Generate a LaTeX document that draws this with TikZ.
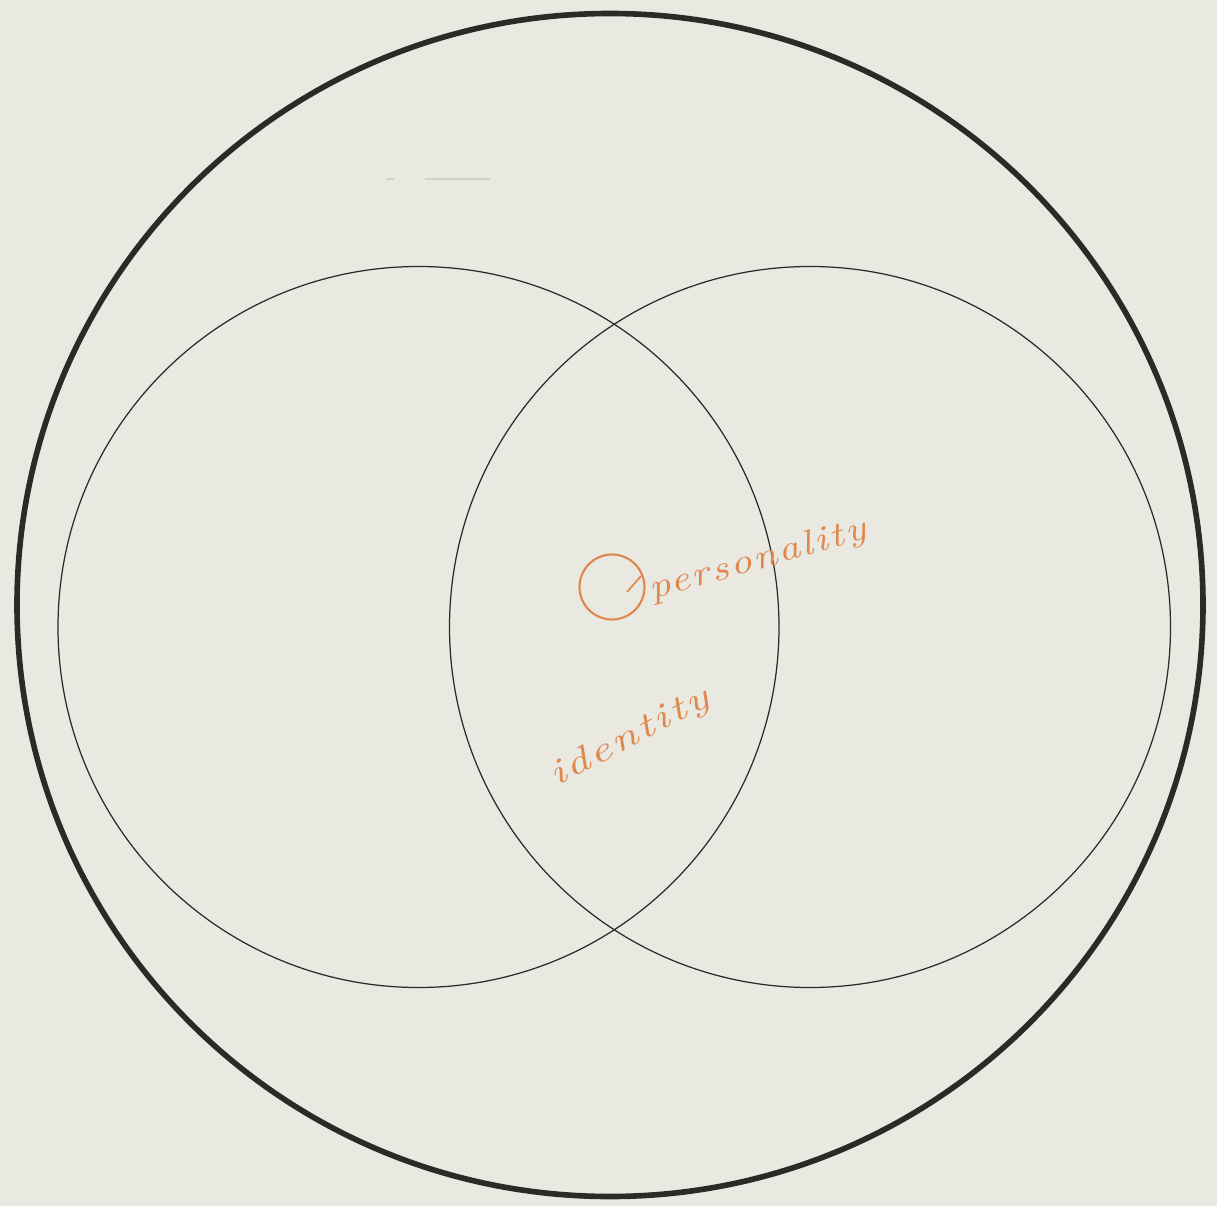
\documentclass[tikz,border=0pt]{standalone}
\usepackage{fontspec}
\usepackage{xcolor}
\newfontface\handfont[LetterSpace=6]{lmroman10-italic.otf}
\definecolor{paper}{HTML}{E9E9E1}
\definecolor{ink}{HTML}{2A2A26}
\definecolor{pen}{HTML}{E0874E}
\definecolor{faint}{HTML}{D2D2CA}
\begin{document}
\begin{tikzpicture}[x=0.02cm,y=-0.02cm,
  outerring/.style={draw=ink,line width=3.2pt},
  setring/.style={draw=ink,line width=0.7pt},
  handtext/.style={text=pen,font=\handfont\fontsize{20}{20}\selectfont,inner sep=0pt}]
\fill[paper] (0,0) rectangle (1217,1206);
\useasboundingbox (0,0) rectangle (1217,1206);
% faint mark near top
\draw[faint,line width=1pt] (425,179) -- (490,179);
\draw[faint,line width=1pt] (386,179) -- (394,179);
% circles
\draw[outerring] (610,605) ellipse [x radius=593, y radius=591.5];
\draw[setring] (418.5,627) circle [radius=360.5];
\draw[setring] (810,627) circle [radius=360.5];
% handwriting
\node[draw=pen,line width=1.2pt,circle,minimum size=1.3cm,inner sep=0pt] (mark) at (612,587) {};
\draw[pen,line width=1pt] (627,592) -- (641,576);
\node[handtext,rotate=16,xscale=1.2,anchor=base west] (pers) at (652,600) {personality};
\node[handtext,rotate=28,xscale=1.35] (iden) at (630,738) {identity};
\end{tikzpicture}
\end{document}
